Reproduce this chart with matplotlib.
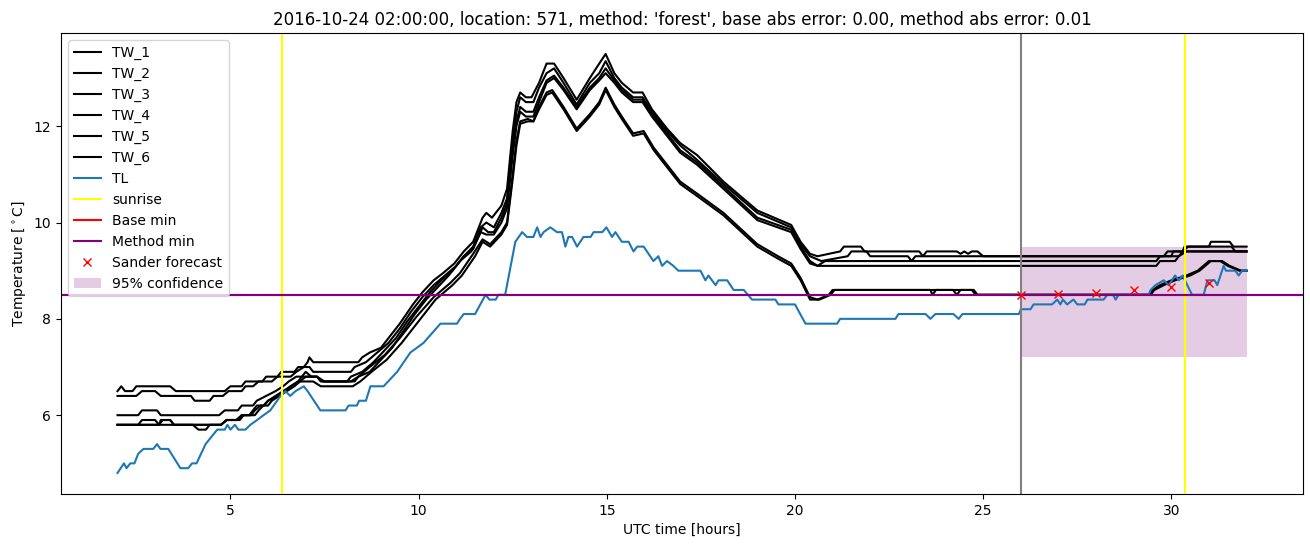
import matplotlib
matplotlib.use("Agg")
import matplotlib.pyplot as plt

title = ("2016-10-24 02:00:00, location: 571, method: 'forest', "
         "base abs error: 0.00, method abs error: 0.01")

# TL (air temperature), breakpoints
tl_hours = [2.0, 2.17, 2.24, 2.34, 2.45, 2.55, 2.69, 2.95, 3.05, 3.14, 3.35, 3.67, 3.88, 3.98, 4.1,
            4.34, 4.65, 4.85, 4.92, 5.0, 5.12, 5.21, 5.4, 5.53, 5.71, 5.88, 6.06, 6.24, 6.33, 6.46,
            6.59, 6.73, 6.95, 7.05, 7.39, 8.06, 8.14, 8.36, 8.42, 8.6, 8.72, 9.07, 9.43, 9.78, 10.13,
            10.58, 11.02, 11.1, 11.2, 11.5, 11.78, 11.88, 12.05, 12.12, 12.3, 12.57, 12.75, 12.88,
            13.05, 13.15, 13.24, 13.32, 13.5, 13.68, 13.81, 13.9, 13.98, 14.08, 14.21, 14.38, 14.57,
            14.65, 14.88, 14.99, 15.14, 15.23, 15.4, 15.58, 15.71, 15.81, 15.98, 16.24, 16.37, 16.47,
            16.6, 16.77, 16.9, 17.49, 17.62, 17.7, 17.89, 17.97, 18.2, 18.37, 18.64, 18.86, 19.48,
            19.56, 20.0, 20.28, 21.12, 21.2, 22.67, 22.75, 23.47, 23.6, 23.73, 24.21, 24.35, 24.45,
            25.95, 26.0, 26.26, 26.34, 26.83, 26.97, 27.05, 27.12, 27.23, 27.4, 27.5, 27.7, 27.77,
            28.2, 28.3, 28.45, 28.52, 28.6, 29.4, 29.45, 29.58, 29.8, 29.93, 30.1, 30.2, 30.3, 30.55,
            30.86, 30.96, 31.15, 31.22, 31.39, 31.45, 31.7, 31.79, 31.88, 32.0]
tl_temp = [4.8, 5.0, 4.9, 5.0, 5.0, 5.2, 5.3, 5.3, 5.4, 5.3, 5.3, 4.9, 4.9, 5.0, 5.0,
           5.4, 5.7, 5.7, 5.8, 5.7, 5.8, 5.7, 5.7, 5.8, 5.9, 6.0, 6.1, 6.3, 6.4, 6.5,
           6.4, 6.5, 6.6, 6.5, 6.1, 6.1, 6.2, 6.2, 6.3, 6.3, 6.6, 6.6, 6.9, 7.3, 7.5,
           7.9, 7.9, 8.0, 8.1, 8.1, 8.5, 8.4, 8.4, 8.5, 8.5, 9.6, 9.8, 9.7,
           9.7, 9.9, 9.7, 9.8, 9.9, 9.8, 9.8, 9.5, 9.7, 9.7, 9.5, 9.7, 9.7,
           9.8, 9.8, 9.9, 9.7, 9.8, 9.6, 9.6, 9.4, 9.5, 9.5, 9.2, 9.3, 9.1,
           9.2, 9.1, 9.0, 9.0, 8.8, 8.9, 8.7, 8.8, 8.8, 8.6, 8.6, 8.4, 8.4,
           8.3, 8.3, 7.9, 7.9, 8.0, 8.0, 8.1, 8.1, 8.0, 8.1, 8.1, 8.0, 8.1,
           8.1, 8.2, 8.2, 8.3, 8.3, 8.4, 8.3, 8.4, 8.3, 8.4, 8.3, 8.3, 8.4,
           8.4, 8.5, 8.5, 8.4, 8.5, 8.5, 8.6, 8.7, 8.8, 8.7, 8.9, 8.8, 8.9, 8.5,
           8.5, 8.8, 8.8, 8.7, 9.1, 9.0, 9.0, 8.9, 9.0, 9.0]

# TW_1 .. TW_6 (wall temperatures), breakpoints
tw1_hours = [2.0, 2.1, 2.2, 2.4, 2.5, 3.4, 3.55, 4.85, 5.0, 5.3, 5.4, 5.85, 5.95, 6.25, 6.35, 6.7,
             6.8, 6.95, 7.05, 7.1, 7.2, 8.4, 8.5, 8.7, 9.0, 9.25, 9.5, 9.85, 10.1, 10.4, 10.65,
             10.95, 11.2, 11.45, 11.7, 11.8, 11.95, 12.2, 12.35, 12.5, 12.6, 12.7, 12.85, 13.0,
             13.2, 13.4, 13.6, 13.85, 14.2, 14.55, 14.8, 14.97, 15.2, 15.4, 15.7, 15.95, 16.2,
             16.6, 16.95, 17.4, 18.1, 19.0, 19.9, 20.15, 20.4, 20.6, 21.2, 21.3, 21.75, 21.85,
             23.3, 23.4, 23.5, 24.3, 24.4, 24.5, 24.6, 24.7, 24.85, 25.0, 30.0, 30.05, 30.3,
             30.35, 31.0, 31.05, 31.55, 31.65, 32.0]
tw1_temp = [6.5, 6.6, 6.5, 6.5, 6.6, 6.6, 6.5, 6.5, 6.6, 6.6, 6.7, 6.7, 6.8, 6.8, 6.9, 6.9,
            7.0, 7.0, 7.1, 7.2, 7.1, 7.1, 7.2, 7.3, 7.4, 7.65, 7.9, 8.3, 8.55, 8.8, 8.95,
            9.15, 9.4, 9.6, 10.1, 10.2, 10.1, 10.35, 10.7, 11.9, 12.5, 12.7, 12.6, 12.6,
            12.9, 13.3, 13.3, 13.0, 12.55, 13.0, 13.3, 13.5, 13.1, 12.9, 12.7, 12.7, 12.35,
            11.95, 11.65, 11.4, 10.85, 10.25, 9.95, 9.6, 9.35, 9.3, 9.4, 9.5, 9.5, 9.4,
            9.4, 9.3, 9.4, 9.4, 9.35, 9.4, 9.35, 9.4, 9.4, 9.3, 9.3, 9.4, 9.4,
            9.5, 9.5, 9.6, 9.6, 9.5, 9.5]

tw2_hours = [2.0, 2.5, 2.65, 3.0, 3.15, 3.95, 4.05, 4.45, 4.55, 4.8, 4.95, 5.3, 5.4, 5.6, 5.75,
             6.1, 6.25, 6.6, 6.75, 6.95, 7.1, 7.2, 8.2, 8.3, 8.6, 8.9, 9.2, 9.5, 9.8, 10.1, 10.4,
             10.7, 11.0, 11.2, 11.45, 11.65, 11.8, 12.0, 12.2, 12.35, 12.5, 12.6, 12.7, 12.85,
             13.05, 13.2, 13.4, 13.6, 13.85, 14.2, 14.55, 14.8, 14.97, 15.2, 15.4, 15.7, 15.95,
             16.2, 16.6, 16.95, 17.4, 18.1, 19.0, 19.9, 20.15, 20.4, 20.7, 21.4, 21.5, 21.9,
             22.0, 23.0, 23.1, 23.2, 29.8, 29.9, 30.3, 30.45, 31.6, 31.7, 32.0]
tw2_temp = [6.4, 6.4, 6.5, 6.5, 6.4, 6.4, 6.3, 6.3, 6.4, 6.4, 6.5, 6.5, 6.6, 6.6, 6.7,
            6.7, 6.8, 6.8, 6.9, 7.0, 7.0, 6.9, 6.9, 7.0, 7.1, 7.3, 7.5, 7.8, 8.15, 8.45, 8.7,
            8.9, 9.1, 9.3, 9.5, 9.9, 10.0, 9.9, 10.2, 10.5, 11.7, 12.3, 12.6, 12.5,
            12.5, 12.8, 13.1, 13.2, 12.9, 12.45, 12.9, 13.1, 13.35, 13.0, 12.8, 12.6, 12.6,
            12.3, 11.9, 11.6, 11.3, 10.8, 10.2, 9.9, 9.55, 9.3, 9.2, 9.3, 9.4, 9.4,
            9.3, 9.3, 9.2, 9.3, 9.3, 9.4, 9.4, 9.5, 9.5, 9.4, 9.4]

tw3_hours = [2.0, 2.55, 2.65, 3.0, 3.1, 4.0, 4.15, 4.35, 4.45, 4.75, 4.9, 5.15, 5.3, 5.5, 5.6,
             5.7, 5.9, 6.0, 6.2, 6.4, 6.6, 6.8, 6.9, 7.3, 7.45, 8.1, 8.2, 8.5, 8.8, 9.1, 9.4,
             9.7, 10.0, 10.3, 10.6, 10.9, 11.2, 11.45, 11.7, 11.85, 12.0, 12.2, 12.35, 12.5,
             12.6, 12.7, 12.85, 13.05, 13.2, 13.4, 13.6, 13.85, 14.2, 14.55, 14.8, 14.97, 15.2,
             15.4, 15.7, 15.95, 16.2, 16.6, 16.95, 17.4, 18.1, 19.0, 19.9, 20.15, 20.4, 20.6,
             20.8, 29.6, 29.7, 30.2, 30.3, 32.0]
tw3_temp = [5.8, 5.8, 5.9, 5.9, 5.8, 5.8, 5.7, 5.7, 5.8, 5.8, 5.9, 5.9, 6.0, 6.0, 6.1,
            6.2, 6.2, 6.3, 6.4, 6.5, 6.6, 6.7, 6.8, 6.8, 6.7, 6.7, 6.8, 6.9, 7.1, 7.35, 7.6,
            7.95, 8.25, 8.55, 8.8, 9.0, 9.3, 9.45, 9.9, 9.8, 9.8, 10.1, 10.4, 11.5,
            12.1, 12.4, 12.3, 12.3, 12.6, 12.95, 13.05, 12.8, 12.4, 12.8, 13.0, 13.2, 12.95,
            12.75, 12.55, 12.55, 12.25, 11.85, 11.5, 11.25, 10.75, 10.1, 9.85, 9.5, 9.2, 9.1,
            9.2, 9.2, 9.3, 9.3, 9.4, 9.4]

tw4_hours = [2.0, 3.1, 3.2, 3.4, 3.5, 4.75, 4.9, 5.2, 5.3, 5.55, 5.65, 5.8, 6.0, 6.1, 6.3,
             6.5, 6.7, 6.85, 7.0, 7.3, 7.5, 8.3, 8.4, 8.7, 9.0, 9.3, 9.6, 9.9, 10.2, 10.5,
             10.8, 11.1, 11.4, 11.65, 11.8, 12.0, 12.2, 12.35, 12.5, 12.6, 12.7, 12.85, 13.05,
             13.2, 13.4, 13.6, 13.85, 14.2, 14.55, 14.8, 14.97, 15.2, 15.4, 15.7, 15.95, 16.2,
             16.6, 16.95, 17.4, 18.1, 19.0, 19.9, 20.15, 20.4, 20.6, 29.6, 29.7, 30.1, 30.2,
             30.4, 32.0]
tw4_temp = [5.8, 5.8, 5.9, 5.9, 5.8, 5.8, 5.9, 5.9, 6.0, 6.0, 6.1, 6.2, 6.2, 6.3, 6.4,
            6.5, 6.6, 6.7, 6.8, 6.8, 6.7, 6.7, 6.8, 6.9, 7.15, 7.4, 7.75, 8.1, 8.4, 8.65,
            8.9, 9.2, 9.4, 9.8, 9.75, 9.75, 10.0, 10.3, 11.4, 12.0, 12.3, 12.2, 12.2,
            12.5, 12.9, 13.0, 12.75, 12.35, 12.75, 12.95, 13.1, 12.9, 12.7, 12.5, 12.5, 12.2,
            11.8, 11.45, 11.2, 10.7, 10.05, 9.8, 9.45, 9.15, 9.1, 9.1, 9.2, 9.2, 9.3,
            9.4, 9.4]

tw5_hours = [2.0, 2.55, 2.65, 3.05, 3.15, 4.7, 4.85, 5.2, 5.3, 5.6, 5.7, 5.95, 6.2, 6.4, 6.55,
             6.75, 6.9, 7.0, 7.15, 7.3, 7.4, 8.2, 8.4, 8.7, 9.1, 9.5, 9.95, 10.4, 10.85, 11.1,
             11.45, 11.7, 11.9, 12.2, 12.35, 12.5, 12.6, 12.7, 12.9, 13.05, 13.2, 13.4, 13.55,
             13.85, 14.2, 14.55, 14.8, 14.97, 15.2, 15.4, 15.7, 15.98, 16.25, 16.6, 16.95, 17.4,
             18.1, 19.0, 19.55, 19.9, 20.15, 20.4, 20.6, 20.75, 20.9, 21.0, 23.6, 23.65, 23.75,
             24.2, 24.3, 24.4, 24.75, 24.85, 29.4, 29.5, 29.7, 30.0, 30.4, 30.7, 31.0, 31.3,
             31.5, 31.8, 32.0]
tw5_temp = [6.0, 6.0, 6.1, 6.1, 6.0, 6.0, 6.1, 6.1, 6.2, 6.2, 6.3, 6.4, 6.5, 6.6, 6.7,
            6.8, 6.8, 6.9, 6.8, 6.8, 6.7, 6.7, 6.8, 7.0, 7.25, 7.6, 8.05, 8.45, 8.75, 8.95,
            9.35, 9.65, 9.55, 9.8, 10.0, 11.0, 11.7, 12.1, 12.15, 12.1, 12.4, 12.7, 12.75,
            12.4, 11.95, 12.25, 12.5, 12.8, 12.45, 12.2, 11.85, 11.9, 11.55, 11.2, 10.85, 10.6,
            10.2, 9.55, 9.3, 9.15, 8.85, 8.45, 8.4, 8.45, 8.5, 8.6, 8.6, 8.5, 8.6,
            8.6, 8.5, 8.6, 8.6, 8.5, 8.5, 8.6, 8.7, 8.8, 8.9, 9.0, 9.2, 9.2,
            9.1, 9.0, 9.0]

tw6_hours = [2.0, 3.1, 3.15, 3.4, 3.5, 4.75, 4.9, 5.25, 5.35, 5.65, 5.75, 6.0, 6.25, 6.45,
             6.6, 6.8, 7.0, 7.2, 7.4, 8.25, 8.45, 8.75, 9.15, 9.55, 10.0, 10.45, 10.9, 11.15,
             11.5, 11.7, 11.9, 12.2, 12.35, 12.5, 12.6, 12.7, 12.9, 13.05, 13.2, 13.4, 13.55,
             13.85, 14.2, 14.55, 14.8, 14.97, 15.2, 15.4, 15.7, 15.98, 16.25, 16.6, 16.95, 17.4,
             18.1, 19.0, 19.55, 19.9, 20.15, 20.4, 20.65, 20.8, 20.95, 21.05, 24.7, 24.8, 29.45,
             29.55, 29.8, 30.1, 30.5, 30.75, 31.05, 31.35, 31.55, 31.85, 32.0]
tw6_temp = [5.8, 5.8, 5.9, 5.9, 5.8, 5.8, 5.9, 5.9, 6.0, 6.0, 6.1, 6.3, 6.4, 6.5,
            6.6, 6.7, 6.7, 6.7, 6.6, 6.6, 6.7, 6.9, 7.15, 7.5, 7.95, 8.4, 8.7, 8.9,
            9.3, 9.6, 9.5, 9.75, 9.95, 10.9, 11.6, 12.05, 12.1, 12.1, 12.35, 12.65, 12.7,
            12.35, 11.9, 12.2, 12.45, 12.75, 12.4, 12.15, 11.8, 11.85, 11.5, 11.15, 10.8, 10.55,
            10.15, 9.5, 9.25, 9.1, 8.8, 8.4, 8.4, 8.45, 8.5, 8.6, 8.6, 8.5, 8.5,
            8.6, 8.7, 8.8, 8.9, 9.0, 9.2, 9.2, 9.1, 9.0, 9.0]

sunrise_hours = [6.37, 30.37]
forecast_start = 26.0
base_min = 8.5
method_min = 8.5
sander_hours = [26, 27, 28, 29, 30, 31]
sander_temp = [8.5, 8.51, 8.53, 8.6, 8.66, 8.75]
conf_hours = [26, 32]
conf_low = [7.2, 7.2]
conf_high = [9.5, 9.5]

fig, ax = plt.subplots(figsize=(13.1, 5.47), dpi=100)
fig.subplots_adjust(left=0.0466, right=0.9947, bottom=0.097, top=0.9397)

tw_series = [(tw1_hours, tw1_temp), (tw2_hours, tw2_temp), (tw3_hours, tw3_temp),
             (tw4_hours, tw4_temp), (tw5_hours, tw5_temp), (tw6_hours, tw6_temp)]
for i, (hrs, temps) in enumerate(tw_series):
    ax.plot(hrs, temps, color='black', label='TW_%d' % (i + 1))
ax.plot(tl_hours, tl_temp, color='tab:blue', label='TL')

ax.axvline(sunrise_hours[0], color='yellow', label='sunrise')
ax.axvline(sunrise_hours[1], color='yellow')
ax.axvline(forecast_start, color='grey')
ax.axhline(base_min, color='red', label='Base min')
ax.axhline(method_min, color='purple', label='Method min')
ax.plot(sander_hours, sander_temp, 'x', color='red', linestyle='none', label='Sander forecast')
ax.fill_between(conf_hours, conf_low, conf_high, color='purple', alpha=0.2, linewidth=0,
                label='95% confidence')

ax.set_title(title)
ax.set_xlabel('UTC time [hours]')
ax.set_ylabel(r'Temperature [$^\circ$C]')
ax.legend(loc='upper left')

fig.savefig('out.png')
